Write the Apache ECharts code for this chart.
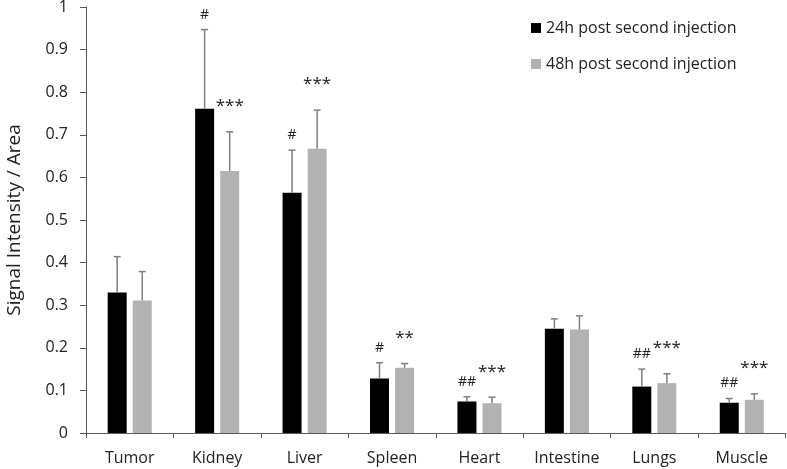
<!DOCTYPE html>
<html>
<head>
<meta charset="utf-8">
<script src="https://cdn.jsdelivr.net/npm/echarts@6/dist/echarts.min.js"></script>
<style>html,body{margin:0;padding:0;background:#fff}#c{width:787px;height:469px}</style>
</head>
<body>
<div id="c"></div>
<script>
const categories = ['Tumor','Kidney','Liver','Spleen','Heart','Intestine','Lungs','Muscle'];
const values24 = [0.330, 0.761, 0.564, 0.128, 0.074, 0.245, 0.109, 0.071];
const errTop24 = [0.414, 0.947, 0.664, 0.165, 0.085, 0.268, 0.150, 0.081];
const values48 = [0.311, 0.615, 0.667, 0.153, 0.070, 0.243, 0.117, 0.078];
const errTop48 = [0.379, 0.707, 0.758, 0.163, 0.084, 0.275, 0.139, 0.092];
const annot24 = ['', '#', '#', '#', '##', '', '##', '##'];
const annot48 = ['', '***', '***', '**', '***', '', '***', '***'];
const yTicks = [0, 0.1, 0.2, 0.3, 0.4, 0.5, 0.6, 0.7, 0.8, 0.9, 1];

const FONT = '"Open Sans"';
const BAR_W = 19;
const BAR_GAP = 0.32;
const OFF = (BAR_W + BAR_W * BAR_GAP) / 2;

function errSeries(name, vals, tops, annots, sign) {
  return {
    type: 'custom',
    name: name + '_err',
    silent: true,
    z: 5,
    data: categories.map((c, i) => [i, vals[i], tops[i]]),
    renderItem: function (params, api) {
      const i = api.value(0);
      const base = api.coord([i, api.value(1)]);
      const top = api.coord([i, api.value(2)]);
      const x = base[0] + sign * OFF;
      const txt = annots[i];
      const children = [
        { type: 'line', shape: { x1: x, y1: base[1], x2: x, y2: top[1] }, style: { stroke: '#7f7f7f', lineWidth: 1.5 } },
        { type: 'line', shape: { x1: x - 3.5, y1: top[1], x2: x + 3.5, y2: top[1] }, style: { stroke: '#7f7f7f', lineWidth: 1.5 } }
      ];
      if (txt) {
        const star = txt.indexOf('*') >= 0;
        children.push({
          type: 'text',
          style: {
            x: x,
            y: top[1] - (star ? 17 : 8),
            text: txt,
            fill: '#222',
            font: (star ? '17px ' : '14px ') + FONT,
            textAlign: 'center',
            textVerticalAlign: 'bottom'
          }
        });
      }
      return { type: 'group', children: children };
    }
  };
}

const chart = echarts.init(document.getElementById('c'), null, { renderer: 'canvas' });
chart.setOption({
  animation: false,
  backgroundColor: '#fff',
  textStyle: { fontFamily: FONT },
  grid: { left: 86, right: 1.5, top: 7, bottom: 36, containLabel: false, outerBoundsMode: 'none' },
  legend: {
    orient: 'vertical',
    left: 526,
    top: 15,
    itemWidth: 10,
    itemHeight: 10,
    itemGap: 20,
    icon: 'rect',
    data: ['24h post second injection', '48h post second injection'],
    textStyle: { fontFamily: FONT, fontSize: 16, color: '#222' }
  },
  xAxis: {
    type: 'category',
    data: categories,
    axisLine: { lineStyle: { color: '#595959', width: 1 } },
    axisTick: { show: true, length: 5, alignWithLabel: false, lineStyle: { color: '#595959' } },
    axisLabel: { fontFamily: FONT, fontSize: 16, color: '#222', margin: 17 }
  },
  yAxis: {
    type: 'value',
    min: 0,
    max: 1,
    interval: 0.1,
    name: 'Signal Intensity / Area',
    nameLocation: 'middle',
    nameGap: 62,
    nameTextStyle: { fontFamily: FONT, fontSize: 19, color: '#222' },
    axisLine: { show: true, lineStyle: { color: '#595959', width: 1 } },
    axisTick: { show: true, length: 6, lineStyle: { color: '#595959' } },
    splitLine: { show: false },
    axisLabel: {
      fontFamily: FONT, fontSize: 16, color: '#222', margin: 18,
      formatter: function (v) {
        const t = yTicks.find(y => Math.abs(y - v) < 1e-9);
        return t === undefined ? '' : String(t);
      }
    }
  },
  series: [
    { type: 'bar', name: '24h post second injection', data: values24, barWidth: BAR_W, barGap: (BAR_GAP * 100) + '%', itemStyle: { color: '#000' } },
    { type: 'bar', name: '48h post second injection', data: values48, barWidth: BAR_W, itemStyle: { color: '#b2b2b2' } },
    errSeries('a', values24, errTop24, annot24, -1),
    errSeries('b', values48, errTop48, annot48, 1)
  ]
});
</script>
</body>
</html>
